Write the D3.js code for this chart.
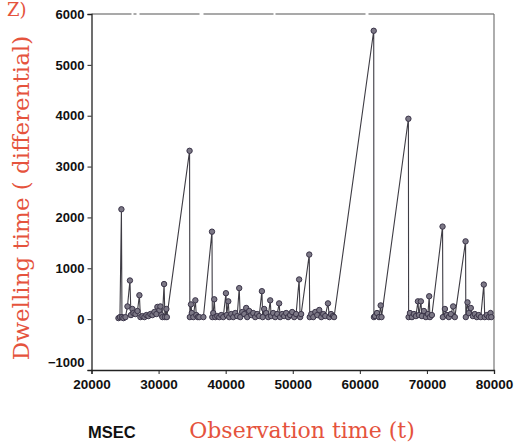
<!DOCTYPE html>
<html>
<head>
<meta charset="utf-8">
<script src="https://cdn.jsdelivr.net/npm/d3@7"></script>
<style>
  html, body { margin: 0; padding: 0; background: #fff; }
  svg { display: block; }
</style>
</head>
<body>
<svg id="chart" width="514" height="448"></svg>
<script>
// Observation time (msec) and the differential dwelling time recorded at each one
const observationTime = [
  24020, 24240, 24460, 24540, 24760, 25060, 25360, 25730, 25880, 26100,
  26250, 26550, 26850, 27140, 27290, 27590, 27890, 28180, 28480, 28780,
  29080, 29370, 29670, 29820, 30120, 30270, 30420, 30570, 30820, 30940,
  31160, 31230, 34620, 34660, 34830, 34950, 35180, 35480, 35620, 35850,
  36070, 36680, 37960, 38010, 38150, 38300, 38450, 38750, 39050, 39340,
  39640, 40040, 40160, 40390, 40530, 40830, 41130, 41430, 41720, 42020,
  42170, 42470, 42770, 43060, 43210, 43510, 43810, 44110, 44400, 44700,
  45000, 45400, 45520, 45740, 46040, 46340, 46640, 46780, 47080, 47380,
  47680, 47970, 48120, 48420, 48720, 49020, 49310, 49610, 49910, 50210,
  50500, 50950, 51100, 51250, 52460, 52530, 52760, 53060, 53360, 53650,
  53950, 54250, 54550, 54840, 55250, 55460, 55710, 56010, 56160, 62070,
  62100, 62270, 62560, 62860, 63110, 63230, 67240, 67270, 67470, 67770,
  68060, 68360, 68660, 68810, 69100, 69250, 69550, 69850, 70150, 70340,
  70450, 70740, 72330, 72380, 72680, 72970, 73270, 73570, 73910, 74160,
  75760, 75800, 76050, 76250, 76540, 76840, 77140, 77440, 77730, 78030,
  78480, 78620, 78920, 79220, 79480, 79590
];
const dwellingTime = [
  20, 40, 2160, 40, 20, 40, 250, 760, 80, 200,
  120, 100, 160, 470, 40, 60, 40, 80, 60, 100,
  80, 140, 100, 240, 180, 250, 80, 40, 690, 40,
  200, 40, 3310, 40, 290, 120, 40, 370, 80, 40,
  40, 40, 1720, 40, 120, 390, 40, 60, 40, 80,
  40, 510, 80, 350, 40, 100, 40, 120, 60, 610,
  40, 140, 100, 220, 40, 160, 80, 120, 40, 100,
  60, 550, 40, 200, 120, 40, 370, 60, 120, 40,
  100, 310, 40, 100, 60, 120, 40, 80, 140, 40,
  100, 780, 40, 100, 1270, 40, 100, 40, 140, 80,
  180, 40, 100, 60, 310, 40, 100, 60, 40, 5670,
  40, 60, 120, 40, 270, 40, 3940, 40, 120, 40,
  100, 60, 350, 80, 350, 60, 160, 40, 100, 450,
  40, 80, 1820, 40, 200, 80, 40, 100, 250, 40,
  1530, 40, 330, 120, 220, 60, 100, 40, 80, 40,
  680, 40, 80, 40, 120, 40
];

// Axis ticks
const xTicks = [20000, 30000, 40000, 50000, 60000, 70000, 80000];
const yTicks = [-1000, 0, 1000, 2000, 3000, 4000, 5000, 6000];

const points = observationTime.map((t, i) => ({ t, v: dwellingTime[i] }));

const svg = d3.select("#chart");
const plot = { left: 91.5, right: 494, top: 14, bottom: 370 };

const x = d3.scaleLinear().domain([20000, 80000]).range([plot.left, plot.right]);
const y = d3.scaleLinear().domain([-1000, 6000]).range([plot.bottom, plot.top]);

const red = "#e5533d";

// Frame: top and right edges in a lighter gray
svg.append("line")
  .attr("x1", plot.left).attr("x2", plot.right).attr("y1", plot.top).attr("y2", plot.top)
  .attr("stroke", "#555").attr("stroke-width", 1.2)
  .attr("stroke-dasharray", "40 2 3 3 60 4 70 2 90 3 130 2");
svg.append("line")
  .attr("x1", plot.right).attr("x2", plot.right).attr("y1", plot.top).attr("y2", plot.bottom)
  .attr("stroke", "#777").attr("stroke-width", 1.2);

// Y axis
const yAxis = svg.append("g")
  .attr("transform", `translate(${plot.left},0)`)
  .call(d3.axisLeft(y).tickValues(yTicks).tickSize(4).tickPadding(3).tickFormat(d3.format("d")));
yAxis.select(".domain").attr("stroke", "#222").attr("stroke-width", 1.3);
yAxis.selectAll(".tick line").attr("stroke", "#222");
yAxis.selectAll("text")
  .attr("font-family", "'Liberation Sans', Arial, sans-serif")
  .attr("font-weight", "bold").attr("font-size", 13).attr("fill", "#111");
yAxis.selectAll(".tick").filter(d => d === -1000).select("text").attr("dy", "-0.25em");

// X axis
const xAxis = svg.append("g")
  .attr("transform", `translate(0,${plot.bottom})`)
  .call(d3.axisBottom(x).tickValues(xTicks).tickSize(4).tickPadding(5).tickFormat(d3.format("d")));
xAxis.select(".domain").attr("stroke", "#222").attr("stroke-width", 1.3);
xAxis.selectAll(".tick line").attr("stroke", "#222");
xAxis.selectAll("text")
  .attr("font-family", "'Liberation Sans', Arial, sans-serif")
  .attr("font-weight", "bold").attr("font-size", 13.5).attr("fill", "#111");

// Series line
const line = d3.line().x(d => x(d.t)).y(d => y(d.v));
svg.append("path")
  .datum(points)
  .attr("d", line)
  .attr("fill", "none")
  .attr("stroke", "#3e3c44")
  .attr("stroke-width", 1.1);

// Markers
svg.append("g").selectAll("circle")
  .data(points)
  .join("circle")
  .attr("cx", d => x(d.t))
  .attr("cy", d => y(d.v))
  .attr("r", 2.7)
  .attr("fill", "#7c7886")
  .attr("stroke", "#3a3448")
  .attr("stroke-width", 1);

// Panel tag
svg.append("text")
  .attr("x", 7).attr("y", 16)
  .attr("font-family", "'DejaVu Serif', serif")
  .attr("font-size", 18).attr("fill", red)
  .text("Z)");

// Axis titles
svg.append("text")
  .attr("transform", "translate(29,198) rotate(-90)")
  .attr("text-anchor", "middle")
  .attr("font-family", "'DejaVu Serif', serif")
  .attr("font-size", 23).attr("fill", red)
  .text("Dwelling time ( differential)");

svg.append("text")
  .attr("x", 302).attr("y", 438)
  .attr("text-anchor", "middle")
  .attr("font-family", "'DejaVu Serif', serif")
  .attr("font-size", 22).attr("fill", red)
  .text("Observation time (t)");

svg.append("text")
  .attr("x", 88).attr("y", 438)
  .attr("font-family", "'Liberation Sans', Arial, sans-serif")
  .attr("font-weight", "bold").attr("font-size", 16.5).attr("fill", "#111")
  .text("MSEC");
</script>
</body>
</html>
